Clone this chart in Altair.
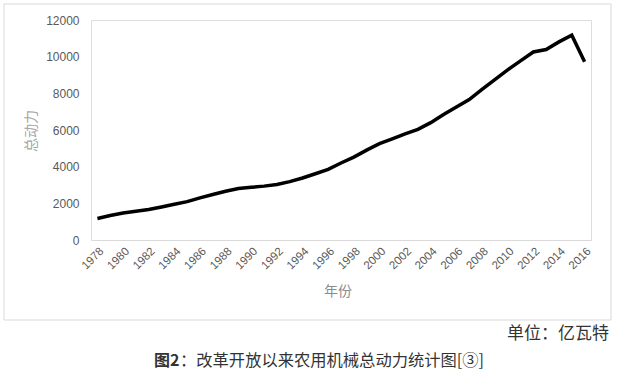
import altair as alt
import pandas as pd

years = list(range(1978, 2017))
power = [1175, 1338, 1475, 1568, 1661, 1802, 1950, 2091, 2295, 2484,
         2658, 2807, 2871, 2939, 3031, 3182, 3380, 3612, 3855, 4202,
         4521, 4900, 5257, 5517, 5793, 6039, 6403, 6840, 7252, 7659,
         8219, 8750, 9278, 9774, 10256, 10391, 10806, 11173, 9725]
tick_years = list(range(1978, 2017, 2))
y_ticks = [0, 2000, 4000, 6000, 8000, 10000, 12000]

x_title = "年份"
y_title = "总动力"
unit_text = "单位：亿瓦特"
cap_bold = "图2"
cap_rest = "：改革开放以来农用机械总动力统计图[③]"

df = pd.DataFrame({"year": years, "power": power})

CJK = "Noto Sans CJK SC"
NUM = "Liberation Sans"

line = alt.Chart(df).mark_line(color="black", strokeWidth=3.5, strokeJoin="miter").encode(
    x=alt.X("year:O",
            scale=alt.Scale(type="point", padding=0.5),
            axis=alt.Axis(values=tick_years, labelAngle=-45, labelFont=NUM, labelFontSize=11.5,
                          labelColor="#595959", ticks=False, domainColor="#d9d9d9",
                          domainWidth=1, labelPadding=5, title=None, grid=False)),
    y=alt.Y("power:Q",
            scale=alt.Scale(domain=[0, 12000]),
            axis=alt.Axis(values=y_ticks, format="d", labelFont=NUM, labelFontSize=12,
                          labelColor="#595959", ticks=False, domain=False, grid=False,
                          labelPadding=12, title=None)),
)

one = pd.DataFrame({"a": [0]})

border = alt.Chart(one).mark_rect(fill=None, stroke="#d9d9d9", strokeWidth=1).encode(
    x=alt.value(-87), x2=alt.value(520), y=alt.value(-16), y2=alt.value(300)
)

ytitle = alt.Chart(one).mark_text(text=y_title, angle=270, font=CJK, fontSize=14,
                                  color="#a6a6a6", align="center", baseline="middle").encode(
    x=alt.value(-59), y=alt.value(111))

xtitle = alt.Chart(one).mark_text(text=x_title, font=CJK, fontSize=14,
                                  color="#8c8c8c", align="center", baseline="middle").encode(
    x=alt.value(247), y=alt.value(272))

unit = alt.Chart(one).mark_text(text=unit_text, font=CJK, fontSize=17,
                                color="#333333", align="right", baseline="middle").encode(
    x=alt.value(518), y=alt.value(314))

capb = alt.Chart(one).mark_text(text=cap_bold, font=CJK, fontSize=16, fontWeight="bold",
                                color="#333333", align="left", baseline="middle").encode(
    x=alt.value(63), y=alt.value(341))

capr = alt.Chart(one).mark_text(text=cap_rest, font=CJK, fontSize=16.3,
                                color="#333333", align="left", baseline="middle").encode(
    x=alt.value(89), y=alt.value(341))

chart = alt.layer(border, line, ytitle, xtitle, unit, capb, capr).properties(
    width=500, height=220,
    autosize=alt.AutoSizeParams(type="none"),
    padding={"left": 91, "top": 20, "right": 26, "bottom": 136},
).configure_view(stroke=None).configure(background="white")

chart.save("out.html", embed_options={"renderer": "svg", "actions": False})
